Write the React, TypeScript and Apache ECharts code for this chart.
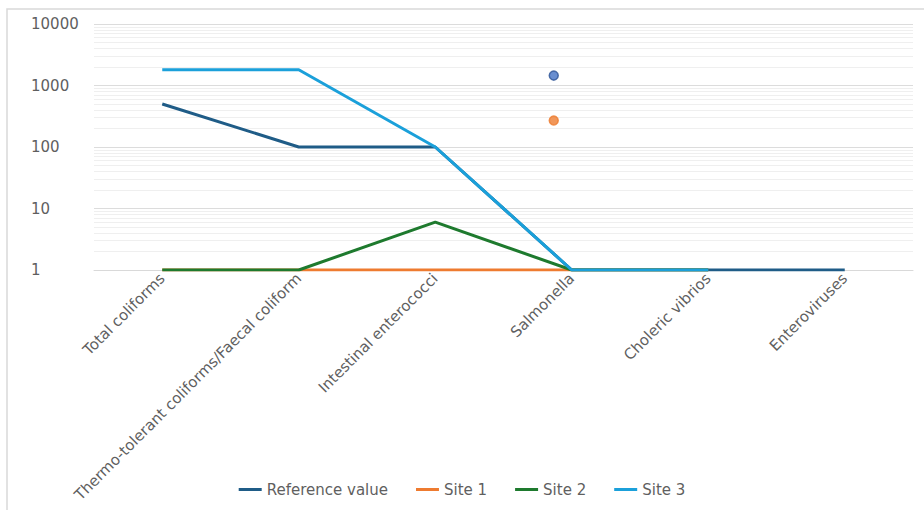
import React, { useEffect, useRef } from "react";
import * as echarts from "echarts";

const categories = [
  "Total coliforms",
  "Thermo-tolerant coliforms/Faecal coliform",
  "Intestinal enterococci",
  "Salmonella",
  "Choleric vibrios",
  "Enteroviruses",
];
const referenceValue = [500, 100, 100, 1, 1, 1];
const site1 = [1, 1, 1, 1, 1, null];
const site2 = [1, 1, 6, 1, 1, null];
const site3 = [1800, 1800, 100, 1, 1, null];
// Two isolated Salmonella measurements shown as dots
const salmonellaDots = [
  { value: 1450, color: "#4472C4", border: "#2F5597" },
  { value: 270, color: "#ED7D31", border: "#ED7D31" },
];
const decades = [1, 10, 100, 1000];

const FONT = "DejaVu Sans";
const TEXT = "#5f5f5f";

export default function App() {
  const ref = useRef<HTMLDivElement>(null);

  useEffect(() => {
    if (!ref.current) return;
    const chart = echarts.init(ref.current, undefined, { renderer: "svg" });

    // minor log gridlines at 2..9 of every decade
    const minorLines: { yAxis: number }[] = [];
    decades.forEach((d) => {
      for (let k = 2; k <= 9; k++) minorLines.push({ yAxis: k * d });
    });

    const lineSeries = (name: string, data: (number | null)[], color: string) => ({
      name,
      type: "line",
      data,
      symbol: "none",
      connectNulls: false,
      lineStyle: { color, width: 3 },
      itemStyle: { color },
      z: 3,
    });

    chart.setOption({
      animation: false,
      textStyle: { fontFamily: FONT },
      graphic: [
        {
          type: "rect",
          shape: { x: 7, y: 9, width: 1000, height: 600 },
          style: { fill: "none", stroke: "#d9d9d9", lineWidth: 1.5 },
          z: -10,
          silent: true,
        },
      ],
      grid: {
        left: 94,
        right: 11,
        top: 24,
        bottom: 240,
        containLabel: false,
        outerBoundsMode: "none",
      },
      legend: {
        bottom: 8,
        left: "center",
        data: ["Reference value", "Site 1", "Site 2", "Site 3"],
        icon: "rect",
        itemWidth: 23,
        itemHeight: 3,
        itemGap: 28,
        textStyle: { color: TEXT, fontSize: 15, fontFamily: FONT },
      },
      xAxis: {
        type: "category",
        data: categories,
        boundaryGap: true,
        axisLine: { show: true, lineStyle: { color: "#d9d9d9", width: 1 } },
        axisTick: { show: false },
        axisLabel: {
          rotate: 45,
          interval: 0,
          margin: 6,
          color: TEXT,
          fontSize: 15,
          fontFamily: FONT,
        },
      },
      yAxis: {
        type: "log",
        logBase: 10,
        min: 1,
        max: 10000,
        axisLine: { show: false },
        axisTick: { show: false },
        axisLabel: {
          align: "left",
          margin: 63,
          color: TEXT,
          fontSize: 15,
          fontFamily: FONT,
          formatter: (v: number) => String(Math.round(v)),
        },
        splitLine: { show: true, lineStyle: { color: "#dcdcdc", width: 1 } },
      },
      series: [
        {
          name: "minor-grid",
          type: "line",
          data: [],
          z: 0,
          silent: true,
          markLine: {
            silent: true,
            z: 0,
            symbol: "none",
            label: { show: false },
            lineStyle: { color: "#efefef", width: 1, type: "solid" },
            data: minorLines,
            animation: false,
          },
        },
        lineSeries("Reference value", referenceValue, "#1F5C87"),
        lineSeries("Site 1", site1, "#EE7B30"),
        lineSeries("Site 2", site2, "#1E7A2E"),
        lineSeries("Site 3", site3, "#1BA0DA"),
        {
          name: "Salmonella",
          type: "scatter",
          symbolSize: 9,
          symbolOffset: [-18, 0],
          z: 4,
          data: salmonellaDots.map((d) => ({
            value: ["Salmonella", d.value],
            itemStyle: { color: d.color, borderColor: d.border, borderWidth: 1.5 },
          })),
        },
      ],
    });

    return () => chart.dispose();
  }, []);

  return (
    <div
      ref={ref}
      style={{ position: "absolute", left: 0, top: 0, width: 924, height: 510 }}
    />
  );
}
